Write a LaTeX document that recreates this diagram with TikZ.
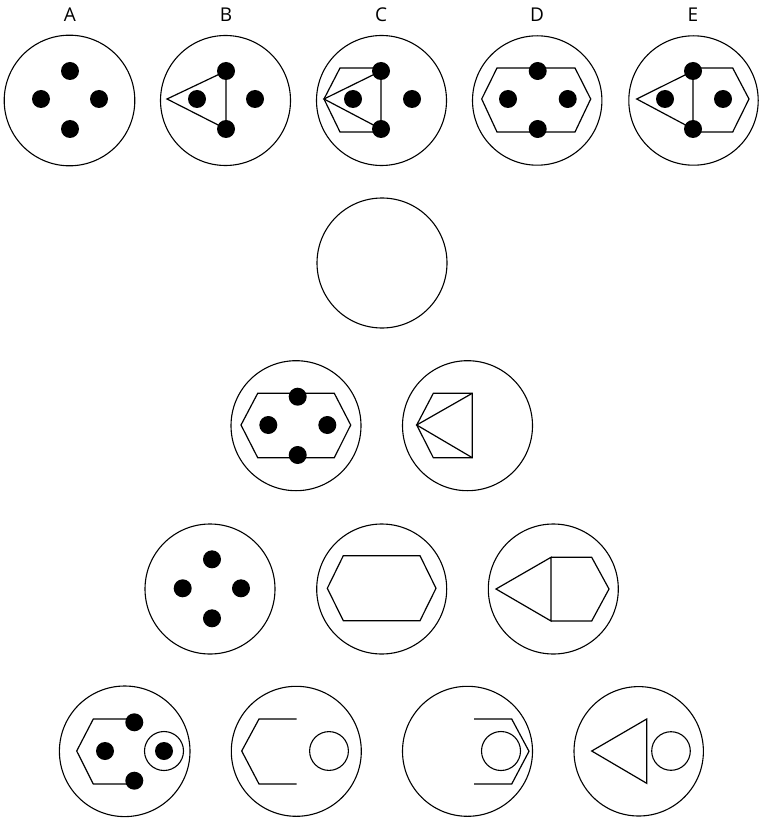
\documentclass[tikz,border=0pt]{standalone}
\usepackage{fontspec}
\setmainfont{Open Sans}
\begin{document}
\begin{tikzpicture}[x=1pt,y=-1pt,
  outer/.style={draw=black,line width=1.1pt},
  shp/.style={draw=black,line width=1.2pt,line join=miter},
  blob/.style={fill=black},
  lbl/.style={font=\fontsize{19}{22}\selectfont,inner sep=0pt}]
\useasboundingbox (0,0) rectangle (759,818);
% labels
\node[lbl] (lA) at (70,15) {A};
\node[lbl] (lB) at (226,15) {B};
\node[lbl] (lC) at (381,15) {C};
\node[lbl] (lD) at (537,15) {D};
\node[lbl] (lE) at (693,15) {E};
% ---- A
\draw[outer] (69.5,100.5) circle (65.3);
\foreach \p in {(70,71),(41,99),(99,99),(70,129)} \fill[blob] \p circle (9);
% ---- B
\draw[outer] (225.5,100.5) circle (65);
\draw[shp] (167,99) -- (226,71) -- (226,129) -- cycle;
\foreach \p in {(226,71),(197,99),(255,99),(226,129)} \fill[blob] \p circle (9);
% ---- C
\draw[outer] (381.5,100.5) circle (65);
\draw[shp] (381,68) -- (340,68) -- (324,99) -- (340,132) -- (381,132);
\draw[shp] (324,99) -- (381,71) -- (381,129) -- cycle;
\foreach \p in {(381,71),(353,99),(412,99),(381,129)} \fill[blob] \p circle (9);
% ---- D
\draw[outer] (537.2,100.5) circle (64.7);
\draw[shp] (481.7,99) -- (497,68) -- (575,68) -- (590.7,99) -- (575,132) -- (497,132) -- cycle;
\foreach \p in {(537.7,71),(508,99),(567.7,99),(537.7,129)} \fill[blob] \p circle (9);
% ---- E
\draw[outer] (693.5,100.5) circle (64.7);
\draw[shp] (693,68) -- (732.7,68) -- (749,99) -- (732.7,132) -- (693,132);
\draw[shp] (636.7,99) -- (693,71) -- (693,129) -- cycle;
\foreach \p in {(693,71),(665,99),(723,99),(693,129)} \fill[blob] \p circle (9);
% ---- empty
\draw[outer] (382,263) circle (65);
% ---- row 3
\draw[outer] (296,425.7) circle (65);
\draw[shp] (241,425) -- (257.7,393.3) -- (334.3,393.3) -- (350.7,425) -- (334.3,457.7) -- (257.7,457.7) -- cycle;
\foreach \p in {(297.7,396.7),(268.3,425),(327.3,425),(297.7,455)} \fill[blob] \p circle (9);
\draw[outer] (467.5,425.7) circle (65);
\draw[shp] (472.3,393.3) -- (433.3,393.3) -- (416.7,425) -- (433.3,457.7) -- (472.3,457.7) -- cycle;
\draw[shp] (472.3,393.3) -- (416.7,425) -- (472.3,457.7);
% ---- row 4
\draw[outer] (210,589) circle (65);
\foreach \p in {(212,559.3),(182.7,588.3),(241,588.3),(212,618.3)} \fill[blob] \p circle (9);
\draw[outer] (381.7,589) circle (65);
\draw[shp] (327.3,588.3) -- (343.3,555.7) -- (420,555.7) -- (436,588.3) -- (420,620.7) -- (343.3,620.7) -- cycle;
\draw[outer] (553.3,589) circle (65);
\draw[shp] (551,557.3) -- (591.7,557.3) -- (609,589) -- (591.7,621) -- (551,621);
\draw[shp] (496,589) -- (551,557.3) -- (551,621) -- cycle;
% ---- row 5
\draw[outer] (124.7,751.3) circle (65.3);
\draw[shp] (134.3,719) -- (93.3,719) -- (76.7,751) -- (93.3,784) -- (134.3,784);
\draw[outer] (164,751) circle (19.5);
\foreach \p in {(134.3,722.3),(105,751),(164,751),(134.3,780.7)} \fill[blob] \p circle (9);
\draw[outer] (296.3,751.3) circle (65);
\draw[shp] (296.7,719) -- (259,719) -- (241.7,751) -- (259,784) -- (296.7,784);
\draw[outer] (329,751) circle (19.4);
\draw[outer] (467.5,751.3) circle (65);
\draw[shp] (474,719) -- (511.7,719) -- (529,751.3) -- (511.7,784) -- (474,784);
\draw[outer] (501,751) circle (19.5);
\draw[outer] (638.7,751.3) circle (64.7);
\draw[shp] (591.7,751) -- (646.7,719) -- (646.7,783.3) -- cycle;
\draw[outer] (671,751) circle (19.3);
\end{tikzpicture}
\end{document}
